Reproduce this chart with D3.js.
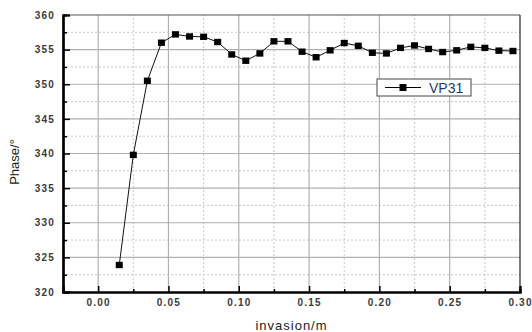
<!DOCTYPE html>
<html>
<head>
<meta charset="utf-8">
<script src="https://d3js.org/d3.v7.min.js"></script>
<style>
  body { margin: 0; background: #fff; }
  svg { display: block; font-family: "Liberation Sans", Arial, sans-serif; }
</style>
</head>
<body>
<svg></svg>
<script>
    // data
    var invasion = [0.015, 0.025, 0.035, 0.045, 0.055, 0.065, 0.075, 0.085, 0.095, 0.105,
                    0.115, 0.125, 0.135, 0.145, 0.155, 0.165, 0.175, 0.185, 0.195, 0.205,
                    0.215, 0.225, 0.235, 0.245, 0.255, 0.265, 0.275, 0.285, 0.295];
    var phase = [323.9, 339.8, 350.5, 356.0, 357.2, 356.9, 356.85, 356.1, 354.3, 353.4,
                 354.45, 356.2, 356.2, 354.7, 353.9, 354.9, 355.95, 355.55, 354.55, 354.45,
                 355.25, 355.6, 355.1, 354.65, 354.9, 355.4, 355.25, 354.85, 354.8];
    var xTicks = [0.00, 0.05, 0.10, 0.15, 0.20, 0.25, 0.30];
    var yTicks = [320, 325, 330, 335, 340, 345, 350, 355, 360];
    var seriesName = "VP31";

    var width = 532, height = 332;
    var margin = {left: 63, right: 12, top: 15, bottom: 40};

    var svg = d3.select('svg').attr('width', width).attr('height', height);

    var x = d3.scaleLinear().domain([-0.025, 0.30]).range([margin.left, width - margin.right]);
    var y = d3.scaleLinear().domain([320, 360]).range([height - margin.bottom, margin.top]);

    var x0 = x.range()[0], x1 = x.range()[1], y0 = y.range()[0], y1 = y.range()[1];

    // minor ticks halfway between the majors
    var xMinor = d3.range(0.025, 0.30, 0.05).map(function (d) { return +d.toFixed(3); });
    var yMinor = d3.range(322.5, 360, 5);

    var grid = svg.append('g');
    // dotted minor grid
    grid.selectAll('.vm').data(xMinor)
        .enter().append('line')
        .attr('x1', function (d) { return x(d); }).attr('x2', function (d) { return x(d); })
        .attr('y1', y0).attr('y2', y1)
        .attr('stroke', '#c8c8c8').attr('stroke-dasharray', '2,2');
    grid.selectAll('.hm').data(yMinor)
        .enter().append('line')
        .attr('y1', function (d) { return y(d); }).attr('y2', function (d) { return y(d); })
        .attr('x1', x0).attr('x2', x1)
        .attr('stroke', '#c8c8c8').attr('stroke-dasharray', '2,2');
    // solid major grid
    grid.selectAll('.vM').data(xTicks.slice(0, -1))
        .enter().append('line')
        .attr('x1', function (d) { return x(d); }).attr('x2', function (d) { return x(d); })
        .attr('y1', y0).attr('y2', y1)
        .attr('stroke', '#b0b0b0').attr('stroke-width', 1.2);
    grid.selectAll('.hM').data(yTicks.slice(1, -1))
        .enter().append('line')
        .attr('y1', function (d) { return y(d); }).attr('y2', function (d) { return y(d); })
        .attr('x1', x0).attr('x2', x1)
        .attr('stroke', '#b0b0b0').attr('stroke-width', 1.2);

    // frame: top and right thin, left and bottom heavy
    svg.append('line').attr('x1', x0).attr('x2', x1).attr('y1', y1).attr('y2', y1)
        .attr('stroke', '#555').attr('stroke-width', 1.2);
    svg.append('line').attr('x1', x1).attr('x2', x1).attr('y1', y1).attr('y2', y0)
        .attr('stroke', '#222').attr('stroke-width', 1.2);

    // axes with inward ticks
    svg.append('g').attr('transform', 'translate(0,' + y0 + ')')
        .call(d3.axisBottom(x).tickValues(xTicks).tickSize(-6).tickPadding(7)
            .tickFormat(d3.format('.2f')));
    svg.append('g').attr('transform', 'translate(0,' + y0 + ')')
        .call(d3.axisBottom(x).tickValues(xMinor).tickSize(-3).tickFormat(''));
    var yAxis = svg.append('g').attr('transform', 'translate(' + x0 + ',0)')
        .call(d3.axisLeft(y).tickValues(yTicks).tickSize(-7).tickPadding(15));
    svg.append('g').attr('transform', 'translate(' + x0 + ',0)')
        .call(d3.axisLeft(y).tickValues(yMinor).tickSize(-4).tickFormat(''));

    svg.selectAll('.domain').attr('stroke', '#000').attr('stroke-width', 2.2);
    svg.selectAll('.tick line').attr('stroke', '#000').attr('stroke-width', 1.5);
    svg.selectAll('.tick text').attr('font-size', 10).attr('fill', '#3a3a3a')
        .attr('letter-spacing', 1.2).attr('font-weight', 'bold')
        .style('font-family', '"Liberation Sans", Arial, sans-serif');
    yAxis.selectAll('.tick text').attr('dx', 7);

    // series
    var pts = invasion.map(function (d, i) { return [d, phase[i]]; });
    svg.append('path').datum(pts)
        .attr('fill', 'none').attr('stroke', '#111').attr('stroke-width', 1)
        .attr('d', d3.line().x(function (d) { return x(d[0]); }).y(function (d) { return y(d[1]); }));
    svg.selectAll('.pt').data(pts).enter().append('rect')
        .attr('x', function (d) { return x(d[0]) - 3.5; })
        .attr('y', function (d) { return y(d[1]) - 3.2; })
        .attr('width', 7).attr('height', 6.4)
        .attr('fill', '#000');

    // legend
    var lg = svg.append('g').attr('transform', 'translate(377,79)');
    lg.append('rect').attr('width', 94).attr('height', 17)
        .attr('fill', '#fff').attr('stroke', '#444').attr('stroke-width', 1);
    lg.append('line').attr('x1', 8).attr('x2', 44).attr('y1', 8.5).attr('y2', 8.5)
        .attr('stroke', '#000').attr('stroke-width', 1);
    lg.append('rect').attr('x', 22.5).attr('y', 5).attr('width', 7).attr('height', 7).attr('fill', '#000');
    lg.append('text').attr('x', 52).attr('y', 14).attr('font-size', 14)
        .attr('fill', '#1f3a6a').text(seriesName);

    // axis titles
    svg.append('text').attr('x', (x0 + x1) / 2).attr('y', 330)
        .attr('text-anchor', 'middle').attr('font-size', 13).attr('letter-spacing', 1)
        .attr('fill', '#222').text('invasion/m');
    svg.append('text').attr('transform', 'translate(19,' + 162 + ')rotate(-90)')
        .attr('text-anchor', 'middle').attr('font-size', 13)
        .attr('fill', '#222').text('Phase/°');
</script>
</body>
</html>
